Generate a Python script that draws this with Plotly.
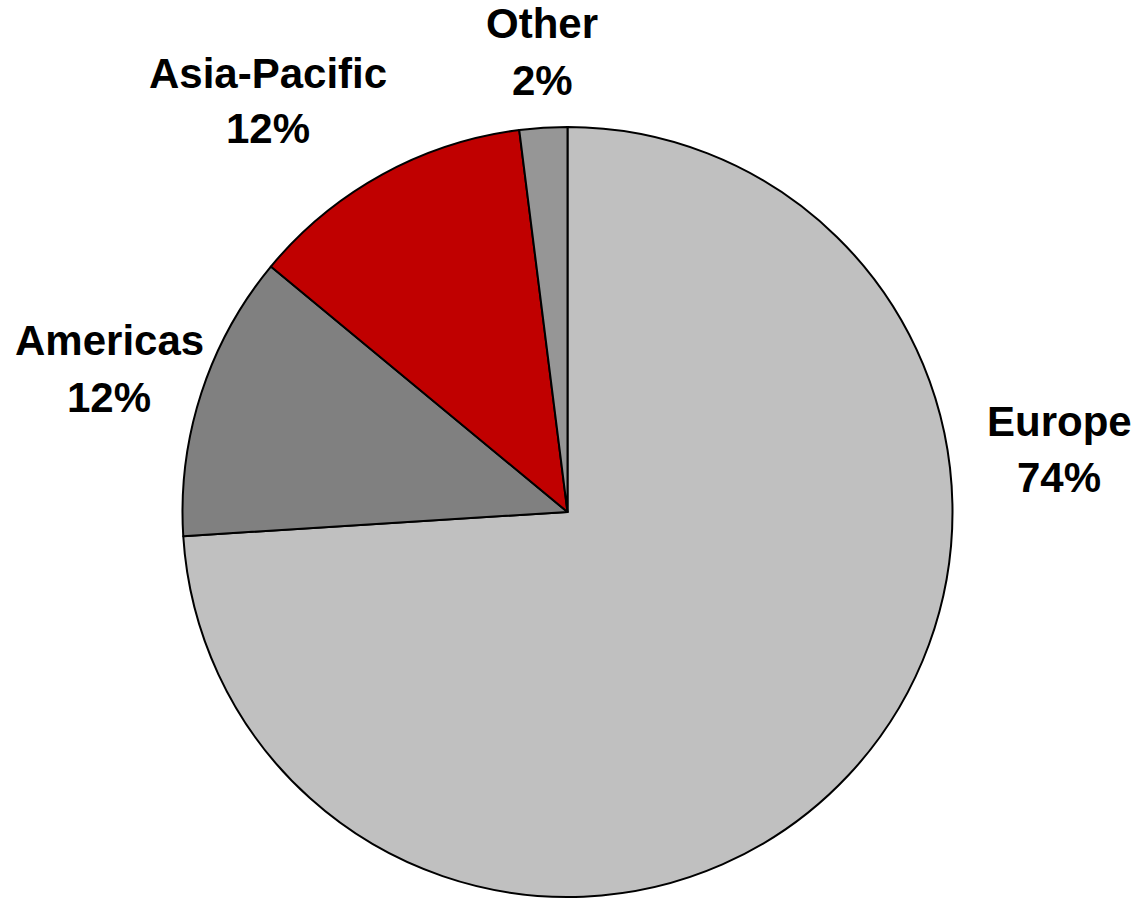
import plotly.graph_objects as go

# Regional breakdown
regions = ["Europe", "Americas", "Asia-Pacific", "Other"]
shares = [74, 12, 12, 2]
colors = ["#C0C0C0", "#808080", "#C00000", "#969696"]

W, H = 1137, 900

# label anchor points (pixel centres of the name line and the percent line)
label_pos = {
    "Europe": (1059, 421, 477),
    "Americas": (109, 341, 397),
    "Asia-Pacific": (268, 74, 129),
    "Other": (542, 24, 80),
}

fig = go.Figure(
    go.Pie(
        labels=regions,
        values=shares,
        sort=False,
        direction="clockwise",
        rotation=0,
        textinfo="none",
        hoverinfo="label+percent",
        marker=dict(colors=colors, line=dict(color="#000000", width=2)),
        domain=dict(x=[182 / W, 953 / W], y=[1 - 897 / H, 1 - 127 / H]),
        showlegend=False,
    )
)

total = sum(shares)
font = dict(family="Arial, Liberation Sans, sans-serif", size=42, color="#000000")
annotations = []
for name, val in zip(regions, shares):
    cx, y1, y2 = label_pos[name]
    pct = round(100 * val / total)
    annotations.append(dict(text=f"<b>{name}</b>", x=cx / W, y=1 - y1 / H,
                            xref="paper", yref="paper", xanchor="center",
                            yanchor="middle", showarrow=False, font=font))
    annotations.append(dict(text=f"<b>{pct}%</b>", x=cx / W, y=1 - y2 / H,
                            xref="paper", yref="paper", xanchor="center",
                            yanchor="middle", showarrow=False, font=font))

fig.update_layout(
    width=W,
    height=H,
    margin=dict(l=0, r=0, t=0, b=0),
    paper_bgcolor="#FFFFFF",
    plot_bgcolor="#FFFFFF",
    annotations=annotations,
)

fig.write_html("out.html")
